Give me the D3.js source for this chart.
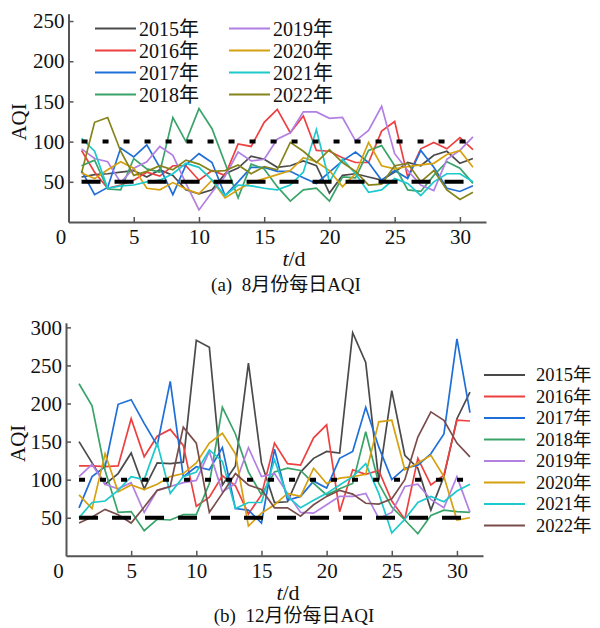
<!DOCTYPE html>
<html>
<head>
<meta charset="utf-8">
<script src="https://d3js.org/d3.v7.min.js"></script>
<style>
  body { margin: 0; background: #fff; }
  text { font-family: "Liberation Serif", "Times New Roman", "Noto Sans CJK SC", serif; fill: #111; }
</style>
</head>
<body>
<div id="chart"></div>
<script>
// day numbers and legend labels
var days = d3.range(1, 32);
var years = ['2015年', '2016年', '2017年', '2018年', '2019年', '2020年', '2021年', '2022年'];
var xTicks = [0, 5, 10, 15, 20, 25, 30];
var augTicks = [50, 100, 150, 200, 250];
var decTicks = [50, 100, 150, 200, 250, 300];
var limits = [100, 50];

// August daily AQI
var aug2015 = [56,59,60,62,64,56,65,58,40,35,40,60,67,82,78,68,70,76,70,36,58,60,56,52,62,74,70,83,88,73,79];
var aug2016 = [89,62,42,46,52,62,57,70,70,52,64,58,97,94,124,140,111,132,89,88,80,74,74,113,125,56,91,99,91,105,90];
var aug2017 = [64,34,43,92,81,96,68,34,71,85,74,33,50,68,68,63,63,55,48,62,76,87,74,52,64,54,89,68,42,38,45];
var aug2018 = [70,77,41,40,79,66,62,130,100,141,116,73,30,72,66,44,26,40,42,26,56,55,89,95,70,40,38,58,75,67,48];
var aug2019 = [91,79,75,49,67,75,94,83,48,15,37,57,87,76,78,103,111,137,137,129,130,101,114,144,85,64,46,39,78,89,106];
var aug2020 = [61,54,65,75,67,42,40,49,41,35,52,30,40,49,54,59,64,80,75,64,44,60,99,70,66,69,71,73,84,89,68];
var aug2021 = [104,88,42,45,46,50,52,60,73,68,52,33,46,45,42,40,46,62,115,50,78,60,37,40,54,48,33,50,60,60,50];
var aug2022 = [61,124,130,88,58,63,70,65,77,72,63,64,71,60,69,65,99,88,74,90,74,63,46,47,70,73,50,64,40,28,37];

// December daily AQI
var dec2015 = [150,122,94,108,135,88,122,121,123,283,274,93,118,253,122,70,71,110,128,137,135,293,254,99,217,132,115,60,104,180,215];
var dec2016 = [118,118,117,118,180,130,157,166,145,65,77,105,92,55,80,148,121,119,155,172,58,113,107,112,72,48,128,93,106,178,177];
var dec2017 = [63,104,117,199,205,174,145,229,104,117,113,142,62,60,43,140,73,78,98,89,128,137,195,143,100,115,119,134,160,285,188];
var dec2018 = [226,197,112,57,58,33,48,47,54,54,95,195,160,110,80,110,115,112,95,80,88,95,163,95,64,47,29,53,60,58,57];
var dec2019 = [104,120,94,88,96,57,86,91,96,99,137,84,95,142,104,108,82,57,56,67,78,78,82,49,57,91,94,74,63,104,57];
var dec2020 = [80,62,134,84,93,87,94,104,108,122,148,161,134,39,56,67,82,78,115,95,102,104,107,176,178,113,122,132,104,47,50];
var dec2021 = [50,70,72,86,104,100,148,82,104,110,139,124,62,70,70,126,78,63,73,82,93,104,121,82,30,48,70,78,71,85,94];
var dec2022 = [43,51,61,54,43,64,86,91,169,148,57,82,108,93,87,63,63,52,67,78,86,81,69,68,75,100,156,189,178,148,130];

var augSeries = [aug2015, aug2016, aug2017, aug2018, aug2019, aug2020, aug2021, aug2022];
var decSeries = [dec2015, dec2016, dec2017, dec2018, dec2019, dec2020, dec2021, dec2022];

var augColors = ['#4a4a4a', '#ee4040', '#1f6fd8', '#3aa36a', '#b27fe2', '#d6a00e', '#1cc9cc', '#85831a'];
var decColors = ['#4a4a4a', '#ee4040', '#1f6fd8', '#3aa36a', '#b27fe2', '#d6a00e', '#1cc9cc', '#7a4d4d'];

var svg = d3.select('#chart')
  .append('svg')
  .attr('width', 600)
  .attr('height', 628);

// draws one panel
function drawPanel(opt) {
  var x = d3.scaleLinear().domain([0, 32]).range([opt.left, opt.right]);
  var y = d3.scaleLinear().domain([0, opt.yMax]).range([opt.bottom, opt.top]);

  var g = svg.append('g');

  // data lines
  var line = d3.line()
    .x(function(d, i) { return x(days[i]); })
    .y(function(d) { return y(d); });

  g.selectAll('.series')
    .data(opt.series)
    .enter()
    .append('path')
    .attr('d', line)
    .attr('fill', 'none')
    .attr('stroke', function(d, i) { return opt.colors[i]; })
    .attr('stroke-width', 1.7);

  // limit lines at 100 and 50
  g.selectAll('.limit')
    .data(limits)
    .enter()
    .append('line')
    .attr('x1', x(1))
    .attr('x2', x(31))
    .attr('y1', function(d) { return y(d); })
    .attr('y2', function(d) { return y(d); })
    .attr('stroke', '#000')
    .attr('stroke-width', 4)
    .attr('stroke-dasharray', function(d) { return d === 100 ? '6,15' : '19,14'; });

  // axes
  var xAxis = g.append('g')
    .attr('transform', 'translate(0,' + opt.bottom + ')')
    .call(d3.axisBottom(x).tickValues(xTicks).tickSize(-5).tickSizeOuter(0).tickPadding(7));
  var yAxis = g.append('g')
    .attr('transform', 'translate(' + opt.left + ',0)')
    .call(d3.axisLeft(y).tickValues(opt.yTicks).tickSize(-5).tickSizeOuter(0).tickPadding(4));

  [xAxis, yAxis].forEach(function(a) {
    a.select('.domain').attr('stroke', '#555').attr('stroke-width', 2);
    a.selectAll('.tick line').attr('stroke', '#555').attr('stroke-width', 1.5);
    a.selectAll('.tick text').attr('font-size', 21).attr('fill', '#111')
      .style('font-family', '"Liberation Serif", serif');
  });
  xAxis.selectAll('.tick text').filter(function(d) { return d === 0; }).attr('dx', -8);
  xAxis.selectAll('.tick line').filter(function(d) { return d === 0; }).remove();

  // axis titles
  g.append('text')
    .attr('transform', 'translate(' + opt.yLabelX + ',' + ((opt.top + opt.bottom) / 2 + 4) + ') rotate(-90)')
    .attr('text-anchor', 'middle')
    .attr('font-size', 21)
    .text('AQI');

  var xt = g.append('text')
    .attr('x', opt.xLabelX)
    .attr('y', opt.bottom + 44)
    .attr('text-anchor', 'middle')
    .attr('font-size', 22);
  xt.append('tspan').attr('font-style', 'italic').text('t');
  xt.append('tspan').text('/d');

  g.append('text')
    .attr('x', opt.captionX)
    .attr('y', opt.bottom + opt.captionDy)
    .attr('text-anchor', 'middle')
    .attr('font-size', 19)
    .attr('xml:space', 'preserve')
    .text(opt.caption);

  // legend
  var legend = g.selectAll('.legend')
    .data(years)
    .enter()
    .append('g')
    .attr('transform', function(d, i) { return opt.legendPos(i); });

  legend.append('line')
    .attr('x1', 0)
    .attr('x2', 41)
    .attr('stroke', function(d, i) { return opt.colors[i]; })
    .attr('stroke-width', 2);

  legend.append('text')
    .attr('x', opt.legendTextX)
    .attr('dy', '0.35em')
    .attr('font-size', opt.legendFont)
    .text(function(d) { return d; });
}

drawPanel({
  series: augSeries,
  colors: augColors,
  yMax: 259,
  yTicks: augTicks,
  left: 68.5, right: 486, top: 13.8, bottom: 222,
  yLabelX: 26, xLabelX: 294, captionX: 286, captionDy: 69,
  caption: '(a)  8月份每日AQI',
  legendTextX: 44, legendFont: 20,
  legendPos: function(i) {
    var col = Math.floor(i / 4), row = i % 4;
    return 'translate(' + (col === 0 ? 95 : 229) + ',' + (28.5 + row * 22) + ')';
  }
});

drawPanel({
  series: decSeries,
  colors: decColors,
  yMax: 306,
  yTicks: decTicks,
  left: 66, right: 483, top: 322.8, bottom: 555.8,
  yLabelX: 25, xLabelX: 288, captionX: 294, captionDy: 66,
  caption: '(b)  12月份每日AQI',
  legendTextX: 52, legendFont: 18.5,
  legendPos: function(i) {
    return 'translate(484,' + (375 + i * 21.5) + ')';
  }
});
</script>
</body>
</html>
